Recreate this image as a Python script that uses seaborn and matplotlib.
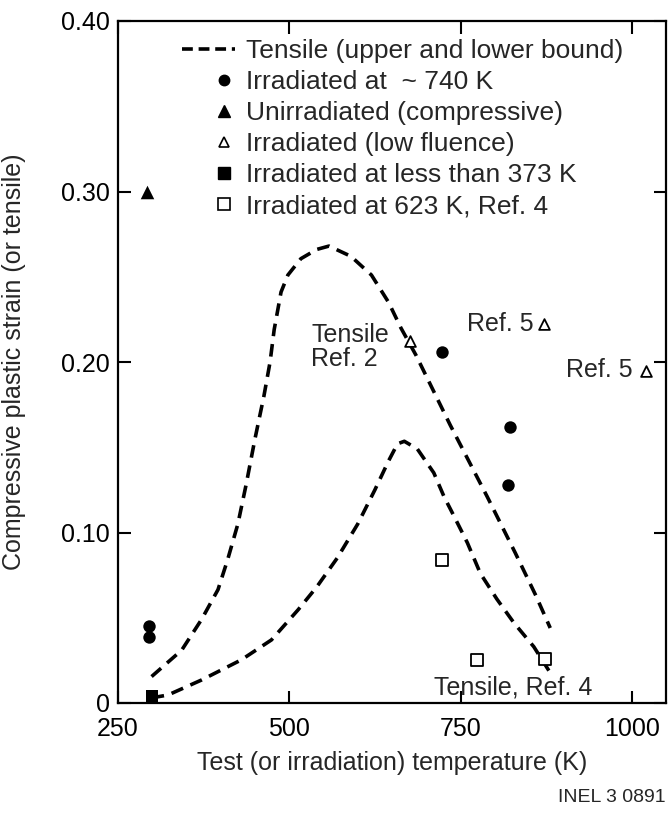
import numpy as np
import pandas as pd
import matplotlib
matplotlib.use("Agg")
import matplotlib.pyplot as plt
import seaborn as sns
from matplotlib.lines import Line2D
from matplotlib.legend_handler import HandlerLine2DCompound

# ---- data ----
upper_T = [299, 343, 372, 396, 410, 425, 437, 450, 463, 472, 478, 488, 498, 517,
           540, 558, 590, 620, 645, 663, 685, 735, 789, 830, 860, 881]
upper_strain = [0.0155, 0.031, 0.049, 0.0665, 0.084, 0.105, 0.128, 0.155, 0.180,
                0.200, 0.219, 0.241, 0.251, 0.2606, 0.266, 0.268, 0.262, 0.251,
                0.235, 0.220, 0.204, 0.163, 0.121, 0.088, 0.063, 0.044]

lower_T = [299, 323, 372, 430, 474, 513, 540, 570, 600, 625, 645, 658, 668, 687,
           711, 726, 740, 760, 779, 803, 828, 857, 879]
lower_strain = [0.003, 0.0047, 0.0135, 0.0253, 0.037, 0.0547, 0.068, 0.085, 0.105,
                0.125, 0.142, 0.152, 0.1535, 0.149, 0.135, 0.121, 0.110, 0.094,
                0.076, 0.061, 0.047, 0.033, 0.019]

irr740_T = [295, 295, 723, 822, 820]
irr740_strain = [0.045, 0.039, 0.206, 0.162, 0.128]

unirr_T = [292]
unirr_strain = [0.300]

lowflu_T = [676, 872, 1021]
lowflu_strain = [0.2125, 0.222, 0.195]

irr373_T = [299]
irr373_strain = [0.004]

irr623_T = [723, 774, 873]
irr623_strain = [0.084, 0.025, 0.026]

legend_labels = ["Tensile (upper and lower bound)",
                 "Irradiated at  ~ 740 K",
                 "Unirradiated (compressive)",
                 "Irradiated (low fluence)",
                 "Irradiated at less than 373 K",
                 "Irradiated at 623 K, Ref. 4"]

x_ticks = [250, 500, 750, 1000]
x_ticklabels = ["250", "500", "750", "1000"]
y_ticks = [0, 0.10, 0.20, 0.30, 0.40]
y_ticklabels = ["0", "0.10", "0.20", "0.30", "0.40"]

# ---- style ----
sns.set_style("ticks")
plt.rcParams['font.family'] = ['Liberation Sans', 'DejaVu Sans']
FS = 18
LFS = 19

fig = plt.figure(figsize=(6.68, 8.15), dpi=100)
ax = fig.add_axes([118/668, 1-703/815, 548/668, 682/815])

dash = (0, (3.5, 2.2))
sns.lineplot(x=upper_T, y=upper_strain, sort=False, estimator=None, color='black',
             lw=2.6, linestyle=dash, ax=ax)
sns.lineplot(x=lower_T, y=lower_strain, sort=False, estimator=None, color='black',
             lw=2.6, linestyle=dash, ax=ax)

sns.scatterplot(x=irr740_T, y=irr740_strain, marker='o', s=80, color='black',
                edgecolor='black', linewidth=0, ax=ax, zorder=3)
sns.scatterplot(x=unirr_T, y=unirr_strain, marker='^', s=95, color='black',
                edgecolor='black', linewidth=0, ax=ax, zorder=3)
sns.scatterplot(x=lowflu_T, y=lowflu_strain, marker='^', s=60, facecolor='white',
                edgecolor='black', linewidth=1.3, ax=ax, zorder=3)
sns.scatterplot(x=irr373_T, y=irr373_strain, marker='s', s=80, color='black',
                edgecolor='black', linewidth=0, ax=ax, zorder=3)
sns.scatterplot(x=irr623_T, y=irr623_strain, marker='s', s=85, facecolor='white',
                edgecolor='black', linewidth=1.3, ax=ax, zorder=3)

# annotations
ax.text(532, 0.209, "Tensile\nRef. 2", ha='left', va='center', fontsize=FS,
        linespacing=1.0)
ax.text(760, 0.2224, "Ref. 5", ha='left', va='center', fontsize=FS)
ax.text(904, 0.1953, "Ref. 5", ha='left', va='center', fontsize=FS)
ax.text(711, 0.0088, "Tensile, Ref. 4", ha='left', va='center', fontsize=FS)

# axes
ax.set_xlim(250, 1050)
ax.set_ylim(0, 0.40)
ax.set_xticks(x_ticks)
ax.set_xticklabels(x_ticklabels)
ax.set_yticks(y_ticks)
ax.set_yticklabels(y_ticklabels)
ax.tick_params(which='both', direction='in', top=True, right=True, length=9,
               width=1.5, labelsize=FS, colors='black')
ax.tick_params(axis='x', pad=10)
ax.tick_params(axis='y', pad=6)
for sp in ax.spines.values():
    sp.set_linewidth(1.6)
    sp.set_color('black')
ax.set_xlabel("Test (or irradiation) temperature (K)", fontsize=FS, labelpad=7)
ax.set_ylabel("Compressive plastic strain (or tensile)", fontsize=FS)
ax.yaxis.set_label_coords(-0.168, 0.5)


class RightMarker(HandlerLine2DCompound):
    def get_xdata(self, legend, xdescent, ydescent, width, height, fontsize):
        xdata, _ = super().get_xdata(legend, xdescent, ydescent, width, height, fontsize)
        return xdata, np.array([0.80 * width - xdescent])


handles = [
    Line2D([], [], color='black', lw=2.6, linestyle=(0, (3.0, 1.6))),
    Line2D([], [], marker='o', ms=7.5, color='black', ls='none'),
    Line2D([], [], marker='^', ms=8, color='black', ls='none'),
    Line2D([], [], marker='^', ms=7, markerfacecolor='white',
           markeredgecolor='black', mew=1.2, ls='none'),
    Line2D([], [], marker='s', ms=8, color='black', ls='none'),
    Line2D([], [], marker='s', ms=8, markerfacecolor='white',
           markeredgecolor='black', mew=1.2, ls='none'),
]
hmap = {h: RightMarker(numpoints=1) for h in handles[1:]}
leg = ax.legend(handles, legend_labels, loc='upper left',
                bbox_to_anchor=((182-118)/548, (703-39)/682),
                frameon=False, fontsize=LFS, handlelength=2.0, handletextpad=0.42,
                labelspacing=0.27, borderpad=0, borderaxespad=0,
                handler_map=hmap)

fig.text(666/668, 1-798/815, "INEL 3 0891", ha='right', va='center', fontsize=14)

fig.savefig("out.png", dpi=100)
